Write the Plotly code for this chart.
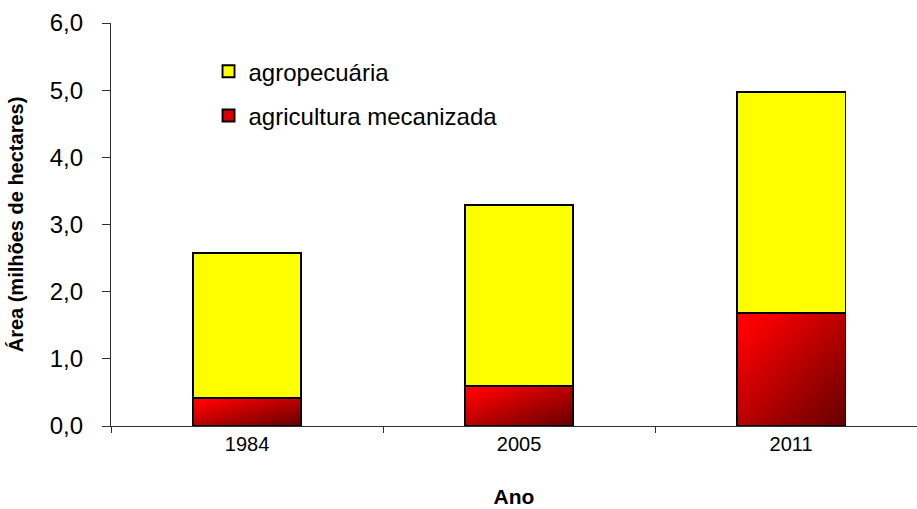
from urllib.parse import quote

import plotly.graph_objects as go

# Área ocupada por classe de uso (milhões de hectares)
anos = ["1984", "2005", "2011"]
agricultura_mecanizada = [0.42, 0.60, 1.68]
agropecuaria = [2.15, 2.69, 3.29]

y_ticks = [0, 1, 2, 3, 4, 5, 6]

BAR_W = 0.4
FONT = "Liberation Sans, Arial, sans-serif"
EDGE = dict(color="black", width=1.9)

# Diagonal red gradient used to fill the lower segment of each bar
grad_svg = (
    "<svg xmlns='http://www.w3.org/2000/svg' width='100' height='100' "
    "viewBox='0 0 100 100' preserveAspectRatio='none'>"
    "<defs><linearGradient id='g' x1='0' y1='0' x2='1' y2='1'>"
    "<stop offset='0' stop-color='#ff0000'/>"
    "<stop offset='0.12' stop-color='#fb0000'/>"
    "<stop offset='1' stop-color='#640000'/>"
    "</linearGradient></defs>"
    "<rect width='100' height='100' fill='url(#g)'/></svg>"
)
grad_src = "data:image/svg+xml;charset=utf-8," + quote(grad_svg)

fig = go.Figure()

# Lower segment: outline only, the gradient image sits underneath
fig.add_trace(go.Bar(
    x=anos, y=agricultura_mecanizada, width=BAR_W,
    marker=dict(color="rgba(0,0,0,0)", line=EDGE),
    name="agricultura mecanizada", showlegend=False,
    hoverinfo="x+y",
))
fig.add_trace(go.Bar(
    x=anos, y=agropecuaria, width=BAR_W,
    marker=dict(color="#ffff00", line=EDGE),
    name="agropecuária", legendgroup="a", legendrank=1,
))
# Legend entry for the lower segment
fig.add_trace(go.Bar(
    x=[None], y=[None],
    marker=dict(color="#d80000", line=EDGE),
    name="agricultura mecanizada", legendgroup="b", legendrank=2,
))

images = []
for i, v in enumerate(agricultura_mecanizada):
    images.append(dict(
        source=grad_src, xref="x", yref="y",
        x=i - BAR_W / 2, y=v, sizex=BAR_W, sizey=v,
        xanchor="left", yanchor="top", sizing="stretch",
        layer="below",
    ))

fig.update_layout(
    width=917, height=509,
    margin=dict(l=111, r=0, t=23, b=83),
    barmode="stack",
    separators=",.",
    paper_bgcolor="white",
    plot_bgcolor="rgba(0,0,0,0)",
    font=dict(family=FONT, color="black"),
    images=images,
    legend=dict(
        x=0.121, y=0.935, xanchor="left", yanchor="top",
        font=dict(size=24, family=FONT, color="black"),
        traceorder="grouped", tracegroupgap=10,
        bgcolor="rgba(0,0,0,0)",
    ),
    xaxis=dict(
        type="category", range=[-0.5, 2.463],
        showline=True, linecolor="#303030", linewidth=1.3,
        ticks="outside", ticklen=6, tickcolor="#303030", tickwidth=1.3,
        tickson="boundaries",
        tickfont=dict(size=20, family=FONT, color="black"),
        showgrid=False, zeroline=False,
        title=dict(text="<b>Ano</b>", font=dict(size=21, family=FONT), standoff=35),
    ),
    yaxis=dict(
        range=[0, 6], tickvals=y_ticks, tickformat=".1f",
        showline=True, linecolor="#303030", linewidth=1.3,
        ticks="outside", ticklen=8, tickcolor="#303030", tickwidth=1.3,
        ticklabelstandoff=14,
        tickfont=dict(size=24, family=FONT, color="black"),
        showgrid=False, zeroline=False,
        title=dict(text="<b>Área (milhões de hectares)</b>",
                   font=dict(size=20, family=FONT), standoff=20),
    ),
)

fig.write_html("out.html")
